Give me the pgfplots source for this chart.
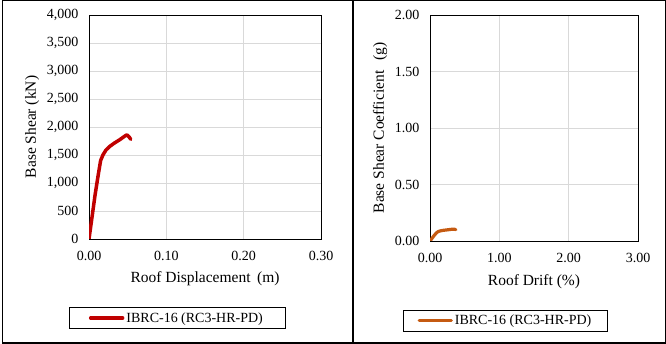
\documentclass[border=0pt]{standalone}
\usepackage{fontspec}
\setmainfont{Liberation Serif}
\usepackage{pgfplots}
\pgfplotsset{compat=1.18}
\definecolor{cred}{HTML}{C00000}
\definecolor{corange}{HTML}{C55A11}
\definecolor{cgrid}{HTML}{D9D9D9}
\pgfplotsset{
  myaxis/.style={
    scale only axis,
    anchor=south west,
    axis line style={black, line width=0.8pt},
    grid=major,
    major grid style={cgrid, line width=0.8pt},
    major tick length=0pt,
    tick style={draw=none},
    /pgf/number format/assume math mode=true,
    tick label style={font=\fontsize{14}{16}\selectfont},
    xticklabel style={yshift=-9pt},
    yticklabel style={xshift=-7pt},
    label style={font=\fontsize{15.5}{18}\selectfont},
    legend style={draw=black, line width=0.8pt, font=\fontsize{14}{16}\selectfont,
      inner ysep=3pt, legend cell align=left},
    legend image code/.code={\draw[##1, line cap=round] (0pt,0pt) -- (32pt,0pt);},
  }
}
\begin{document}
\begin{tikzpicture}
\path[use as bounding box] (0pt,0pt) rectangle (666pt,344pt);
\draw[line width=1.5pt] (2.5pt,0.75pt) rectangle (665.25pt,343.25pt);
\draw[line width=1.5pt] (353pt,0.75pt) -- (353pt,343.25pt);
\begin{axis}[myaxis,
  at={(89pt,105pt)}, width=232pt, height=224pt,
  xmin=0, xmax=0.3, ymin=0, ymax=4000,
  xtick={0,0.1,0.2,0.3}, ytick={0,500,...,4000},
  xticklabel style={/pgf/number format/.cd, fixed, fixed zerofill, precision=2},
  yticklabel style={/pgf/number format/.cd, fixed, 1000 sep={,}},
  scaled ticks=false,
  xlabel={Roof Displacement\, (m)}, ylabel={Base Shear (kN)},
  xlabel style={yshift=-4pt}, ylabel style={yshift=1pt},
  legend style={at={(0.379,-0.353)}, anchor=center, inner xsep=20pt},
]
\addplot[cred, line width=3.5pt, line join=round, line cap=round] coordinates {
(0,0) (0.004,400) (0.008,800) (0.012,1150) (0.015,1400) (0.018,1500)
(0.022,1590) (0.027,1655) (0.033,1715) (0.040,1775) (0.046,1835)
(0.049,1860) (0.052,1820) (0.054,1780)};
\addlegendentry{IBRC-16 (RC3-HR-PD)}
\end{axis}
\begin{axis}[myaxis,
  at={(430pt,103pt)}, width=208pt, height=226pt,
  xmin=0, xmax=3, ymin=0, ymax=2,
  xtick={0,1,2,3}, ytick={0,0.5,...,2},
  xticklabel style={/pgf/number format/.cd, fixed, fixed zerofill, precision=2},
  yticklabel style={/pgf/number format/.cd, fixed, fixed zerofill, precision=2},
  xlabel={Roof Drift (\%)}, ylabel={Base Shear Coefficient\hspace{6pt} (g)},
  xlabel style={yshift=-5pt}, ylabel style={yshift=1pt},
  legend style={at={(0.363,-0.352)}, anchor=center, inner xsep=14pt},
]
\addplot[corange, line width=3.2pt, line join=round, line cap=round] coordinates {
(0,0) (0.028,0.0226) (0.055,0.045) (0.083,0.065) (0.103,0.077) (0.124,0.085)
(0.152,0.090) (0.186,0.094) (0.228,0.097) (0.276,0.1006) (0.317,0.104)
(0.338,0.105) (0.359,0.103) (0.372,0.1006)};
\addlegendentry{IBRC-16 (RC3-HR-PD)}
\end{axis}
\end{tikzpicture}
\end{document}
